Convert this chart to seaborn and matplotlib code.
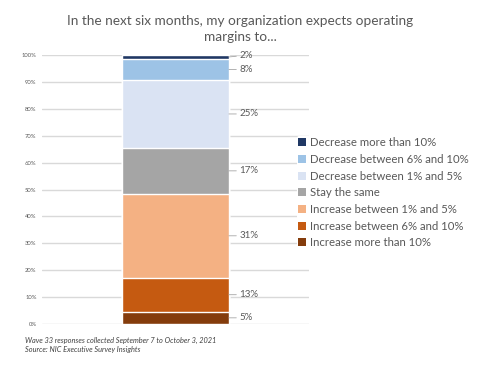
import numpy as np
import pandas as pd
import matplotlib.pyplot as plt
import seaborn as sns
from matplotlib.patches import Patch

# %% data (bottom to top of the stack)
categories = ["Increase more than 10%", "Increase between 6% and 10%",
              "Increase between 1% and 5%", "Stay the same",
              "Decrease between 1% and 5%", "Decrease between 6% and 10%",
              "Decrease more than 10%"]
shares = [4.6, 12.6, 31.2, 17.1, 25.2, 7.9, 1.4]
labels = ["5%", "13%", "31%", "17%", "25%", "8%", "2%"]
colors = ["#843C0C", "#C55A11", "#F4B183", "#A5A5A5",
          "#DAE3F3", "#9DC3E6", "#203864"]

title = "In the next six months, my organization expects operating\nmargins to..."
note = "Wave 33 responses collected September 7 to October 3, 2021\nSource: NIC Executive Survey Insights"

sns.set_theme(style="white")
plt.rcParams["font.family"] = ["Lato", "DejaVu Sans"]
grey = "#595959"

df = pd.DataFrame({"category": categories, "share": shares})
df["top"] = df["share"].cumsum()
df["mid"] = df["top"] - df["share"] / 2
df["x"] = "all"

fig = plt.figure(figsize=(4.85, 3.72), dpi=100)
ax = fig.add_axes([0.087, 0.129, 0.55, 0.723])

# draw cumulative bars from the top down so each one covers the next
for i in reversed(range(len(df))):
    sns.barplot(data=df.iloc[[i]], x="x", y="top", color=colors[i],
                width=0.4, saturation=1, ax=ax, zorder=3)

ax.set_xlim(-0.5, 0.5)
ax.set_ylim(0, 100)
ax.set_yticks(np.arange(0, 101, 10))
ax.set_yticklabels([f"{t}%" for t in range(0, 101, 10)], fontsize=4.2, color=grey)
ax.tick_params(axis="y", length=0, pad=4)
ax.set_xticks([])
ax.set_xlabel("")
ax.set_ylabel("")
ax.yaxis.grid(True, color="#D9D9D9", linewidth=1, zorder=0)
sns.despine(ax=ax, left=True, bottom=True)

# data labels with short leader lines
label_y = list(df["mid"])
label_y[-1] = 99.9
for y_line, y_txt, lab in zip(df["mid"], label_y, labels):
    ax.annotate(lab, xy=(0.2, y_line), xytext=(0.24, y_txt),
                fontsize=7, color=grey, va="center", ha="left",
                arrowprops=dict(arrowstyle="-", color="#A6A6A6", lw=0.6,
                                shrinkA=0, shrinkB=0))

handles = [Patch(facecolor=c, edgecolor="none") for c in colors[::-1]]
leg = fig.legend(handles, categories[::-1], loc="upper left",
                 bbox_to_anchor=(0.612, 0.634), frameon=True, fontsize=8.2,
                 labelcolor=grey, handlelength=0.7, handleheight=0.7,
                 handletextpad=0.4, labelspacing=0.5, borderaxespad=0,
                 borderpad=0.1)
leg.get_frame().set_edgecolor("none")
leg.get_frame().set_facecolor("white")
leg.get_frame().set_alpha(1)

fig.text(0.495, 0.96, title, ha="center", va="top", fontsize=9.8,
         color=grey, linespacing=1.4)
fig.text(0.052, 0.094, note, ha="left", va="top", fontsize=5.3,
         style="italic", color="#404040", linespacing=1.3)

fig.savefig("out.png", dpi=100)
